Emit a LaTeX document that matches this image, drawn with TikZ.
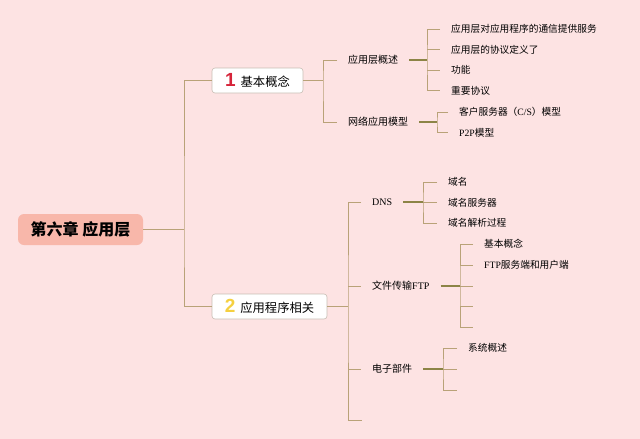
\documentclass[tikz,border=0pt]{standalone}
\usepackage{fontspec}
\setmainfont{Noto Sans CJK SC}
\newfontfamily\latfont{Liberation Serif}
\newfontfamily\numfont{Liberation Sans}
\newcommand\lat[1]{{\latfont #1}}
\definecolor{bgpink}{RGB}{253,227,227}
\definecolor{rootfill}{RGB}{248,183,170}
\definecolor{stubcol}{RGB}{185,162,120}
\definecolor{linkcol}{RGB}{140,132,70}
\definecolor{boxborder}{RGB}{200,190,180}
\definecolor{numred}{RGB}{214,36,58}
\definecolor{numyellow}{RGB}{245,208,64}
\begin{document}
\begin{tikzpicture}[x=1pt,y=-1pt,
  rootbox/.style={draw=none,fill=rootfill,rounded corners=6pt,minimum width=125pt,minimum height=31pt,inner sep=0pt,font=\fontsize{16}{18}\selectfont\bfseries},
  catbox/.style={draw=boxborder,line width=0.6pt,fill=white,rounded corners=3pt,minimum height=25pt,inner sep=0pt,font=\fontsize{12.3}{14}\selectfont},
  midtext/.style={anchor=west,inner xsep=11pt,inner ysep=2pt,font=\fontsize{10}{12}\selectfont},
  leaftext/.style={anchor=west,inner xsep=11pt,inner ysep=2pt,font=\fontsize{9.7}{12}\selectfont},
  stub/.style={draw=stubcol,line width=0.9pt},
  link/.style={draw=linkcol,line width=1.1pt}]
\fill[bgpink] (0,0) rectangle (640,439);
\useasboundingbox (0,0) rectangle (640,439);

% root
\node[rootbox] (root) at (80.5,229.5) {第六章 应用层};
\coordinate (t0) at (184,229.5);

% category boxes
\node[catbox,minimum width=91pt] (n1) at (257.5,80.5) {{\numfont\bfseries\fontsize{19}{19}\selectfont\color{numred}1}\hspace{5pt}基本概念};
\node[catbox,minimum width=115pt] (n2) at (269.5,306.5) {{\numfont\bfseries\fontsize{19}{19}\selectfont\color{numyellow}2}\hspace{5pt}应用程序相关};

\draw[stub] (root.east) -- (t0);
\draw[stub] (n1.west) -| (t0) |- (n2.west);

% branch 1
\coordinate (b1) at (323,80.5);
\node[midtext] (a1) at (337,60) {应用层概述};
\node[midtext] (a2) at (337,122) {网络应用模型};
\draw[stub] (n1.east) -- (b1);
\draw[stub] (a1.west) -| (b1) |- (a2.west);

% a1 leaves
\coordinate (b11) at (427,60);
\node[leaftext] (l1) at (440,29) {应用层对应用程序的通信提供服务};
\node[leaftext] (l2) at (440,49.5) {应用层的协议定义了};
\node[leaftext] (l3) at (440,70) {功能};
\node[leaftext] (l4) at (440,90.5) {重要协议};
\draw[link] (a1.east) -- (b11);
\draw[stub] (l1.west) -| (b11) |- (l4.west);
\draw[stub] (b11 |- l2.west) -- (l2.west);
\draw[stub] (b11 |- l3.west) -- (l3.west);

% a2 leaves
\coordinate (b12) at (437,122);
\node[leaftext] (m1) at (448,112) {客户服务器（\lat{C/S}）模型};
\node[leaftext] (m2) at (448,132.5) {\lat{P2P}模型};
\draw[link] (a2.east) -- (b12);
\draw[stub] (m1.west) -| (b12) |- (m2.west);

% branch 2
\coordinate (b2) at (348,306.5);
\node[midtext] (c1) at (361,202) {\lat{DNS}};
\node[midtext] (c2) at (361,286) {文件传输\lat{FTP}};
\node[midtext] (c3) at (361,369) {电子部件};
\coordinate (c4) at (362,420.5);
\draw[stub] (n2.east) -- (b2);
\draw[stub] (c1.west) -| (b2) |- (c4);
\draw[stub] (b2 |- c2.west) -- (c2.west);
\draw[stub] (b2 |- c3.west) -- (c3.west);

% DNS leaves
\coordinate (b21) at (423,202);
\node[leaftext] (d1) at (437,182) {域名};
\node[leaftext] (d2) at (437,202.5) {域名服务器};
\node[leaftext] (d3) at (437,223) {域名解析过程};
\draw[link] (c1.east) -- (b21);
\draw[stub] (d1.west) -| (b21) |- (d3.west);
\draw[stub] (b21 |- d2.west) -- (d2.west);

% FTP leaves
\coordinate (b22) at (460,286);
\node[leaftext] (f1) at (473,244) {基本概念};
\node[leaftext] (f2) at (473,265) {\lat{FTP}服务端和用户端};
\coordinate (f3) at (473,286);
\coordinate (f4) at (473,306.5);
\coordinate (f5) at (473,327);
\draw[link] (c2.east) -- (b22);
\draw[stub] (f1.west) -| (b22) |- (f5);
\draw[stub] (b22 |- f2.west) -- (f2.west);
\draw[stub] (b22) -- (f3);
\draw[stub] (b22 |- f4) -- (f4);

% mail leaves
\coordinate (b23) at (443,369);
\node[leaftext] (e1) at (457,348) {系统概述};
\coordinate (e2) at (457,369);
\coordinate (e3) at (457,390);
\draw[link] (c3.east) -- (b23);
\draw[stub] (e1.west) -| (b23) |- (e3);
\draw[stub] (b23) -- (e2);
\end{tikzpicture}
\end{document}
